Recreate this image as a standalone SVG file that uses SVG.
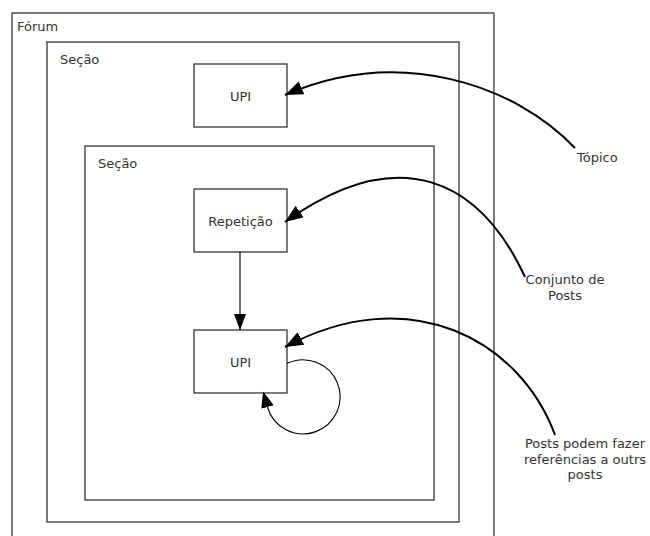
<svg xmlns="http://www.w3.org/2000/svg" width="650" height="536" viewBox="0 0 650 536">
  <style>
    .box { fill: #ffffff; stroke: #333333; stroke-width: 1.3; }
    .frame { fill: none; stroke: #333333; stroke-width: 1.3; }
    .txt { font-family: "DejaVu Sans", Verdana, sans-serif; font-size: 13px; fill: #333333; }
    .mid { text-anchor: middle; }
    .big { fill: none; stroke: #000000; stroke-width: 2; stroke-linecap: butt; }
    .thin { fill: none; stroke: #000000; stroke-width: 1.1; }
  </style>
  <defs>
    <marker id="bigHead" viewBox="0 0 18 14" refX="18" refY="7" markerWidth="18" markerHeight="14" markerUnits="userSpaceOnUse" orient="auto">
      <path d="M0,0 L18,7 L0,14 z" fill="#000000"/>
    </marker>
    <marker id="smallHead" viewBox="0 0 16 12" refX="16" refY="6" markerWidth="16" markerHeight="12" markerUnits="userSpaceOnUse" orient="auto">
      <path d="M0,0 L16,6 L0,12 z" fill="#000000"/>
    </marker>
    <marker id="loopHead" viewBox="0 0 16 13" refX="0" refY="6.5" markerWidth="16" markerHeight="13" markerUnits="userSpaceOnUse" orient="auto">
      <path d="M0,0 L16,6.5 L0,13 z" fill="#000000"/>
    </marker>
  </defs>

  <g id="forum">
    <rect class="frame" x="12" y="13" width="482" height="540"/>
    <text class="txt" x="17" y="31">Fórum</text>
  </g>

  <g id="secao-externa">
    <rect class="frame" x="47" y="42" width="412" height="480"/>
    <text class="txt" x="60" y="64">Seção</text>
  </g>

  <g id="upi-topo">
    <rect class="box" x="194" y="64" width="93" height="63"/>
    <text class="txt mid" x="240.5" y="101">UPI</text>
  </g>

  <g id="secao-interna">
    <rect class="frame" x="85" y="146" width="349" height="354"/>
    <text class="txt" x="98" y="168">Seção</text>
  </g>

  <g id="repeticao">
    <rect class="box" x="194" y="189" width="93" height="63"/>
    <text class="txt mid" x="240.5" y="226">Repetição</text>
  </g>

  <g id="upi-interna">
    <rect class="box" x="194" y="330" width="93" height="63"/>
    <text class="txt mid" x="240.5" y="367">UPI</text>
  </g>

  <g id="topico">
    <text class="txt" x="577" y="162">Tópico</text>
  </g>

  <g id="conjunto-de-posts">
    <text class="txt mid" x="565" y="284">Conjunto de</text>
    <text class="txt mid" x="565" y="300">Posts</text>
  </g>

  <g id="posts-referencias">
    <text class="txt mid" x="585" y="448">Posts podem fazer</text>
    <text class="txt mid" x="585" y="463.5">referências a outrs</text>
    <text class="txt mid" x="585" y="479">posts</text>
  </g>

  <g id="connectors">
    <path class="big" d="M575,148 C515,85 400,45 285,95" marker-end="url(#bigHead)"/>
    <path class="big" d="M525,277 C480,180 400,140 285,222" marker-end="url(#bigHead)"/>
    <path class="big" d="M555,435 C520,340 410,280 285,347" marker-end="url(#bigHead)"/>
    <path class="thin" d="M240,252 L240,330" marker-end="url(#smallHead)"/>
    <path class="thin" d="M287,363.6 A37,37 0 1 1 267.5,407" marker-end="url(#loopHead)"/>
  </g>
</svg>
